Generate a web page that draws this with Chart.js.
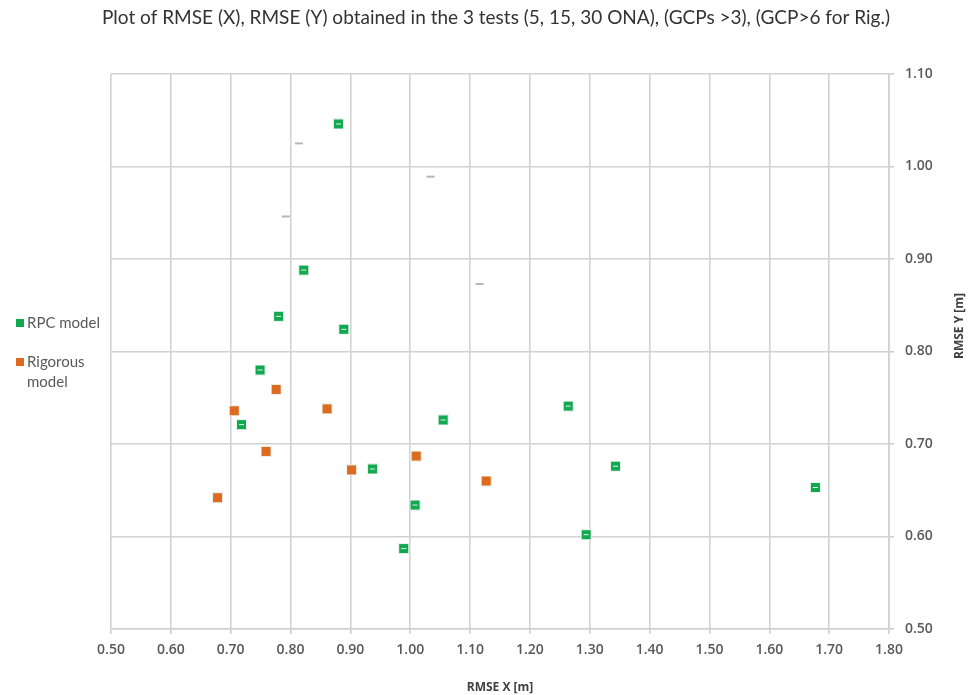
<!DOCTYPE html>
<html>
<head>
<meta charset="utf-8">
<title>RMSE X / RMSE Y scatter</title>
<script src="https://cdn.jsdelivr.net/npm/chart.js"></script>
<style>
  html, body { margin: 0; padding: 0; background: #fff; }
  #wrap { width: 970px; height: 695px; position: relative; }
</style>
</head>
<body>
<div id="wrap"><canvas id="chart"></canvas></div>
<script>
// values (metres)
const rpcX = [0.880, 0.822, 0.780, 0.889, 0.749, 0.718, 1.055, 0.937, 1.008, 1.264, 1.343, 1.677, 1.294, 0.989];
const rpcY = [1.046, 0.888, 0.838, 0.824, 0.780, 0.721, 0.726, 0.673, 0.634, 0.741, 0.676, 0.653, 0.602, 0.587];
const rigX = [0.776, 0.706, 0.861, 0.759, 0.902, 1.010, 1.127, 0.678];
const rigY = [0.759, 0.736, 0.738, 0.692, 0.672, 0.687, 0.660, 0.642];
// small grey dashes with no legend entry
const otherX = [0.814, 1.034, 0.792, 1.116];
const otherY = [1.025, 0.989, 0.946, 0.873];

const xTicks = [0.5, 0.6, 0.7, 0.8, 0.9, 1.0, 1.1, 1.2, 1.3, 1.4, 1.5, 1.6, 1.7, 1.8];
const yTicks = [0.5, 0.6, 0.7, 0.8, 0.9, 1.0, 1.1];

const TITLE = 'Plot of RMSE (X), RMSE (Y) obtained in the 3 tests (5, 15, 30 ONA), (GCPs >3), (GCP>6 for Rig.)';
const GREEN = '#11a84f';
const ORANGE = '#dd6a1f';
const TXT = '#595959';

function pts(xs, ys) {
  return xs.map((x, i) => ({ x: x, y: ys[i] }));
}

// square marker, green one has a light dash through it
function marker(color, dash) {
  const c = document.createElement('canvas');
  c.width = 11; c.height = 11;
  const g = c.getContext('2d');
  g.fillStyle = '#e8f3ec';
  g.fillRect(0, 0, 11, 11);
  g.fillStyle = color;
  g.fillRect(1, 1, 9, 9);
  if (dash) {
    g.fillStyle = '#e4f5ea';
    g.fillRect(3, 5, 5, 1);
  }
  return c;
}

const legendItems = [
  { color: GREEN, lines: ['RPC model'], y: 323 },
  { color: ORANGE, lines: ['Rigorous', 'model'], y: 362 }
];

const sidePlugin = {
  id: 'side',
  afterDraw(chart) {
    const ctx = chart.ctx;
    ctx.save();
    ctx.textBaseline = 'middle';
    // title
    ctx.textAlign = 'center';
    ctx.font = '19px Lato';
    ctx.fillStyle = '#333';
    ctx.fillText(TITLE, 496, 18);
    // legend
    ctx.textAlign = 'left';
    ctx.font = '15px Lato';
    legendItems.forEach(it => {
      ctx.fillStyle = it.color;
      ctx.fillRect(16, it.y - 4, 8, 8);
      ctx.fillStyle = TXT;
      it.lines.forEach((l, i) => ctx.fillText(l, 27, it.y + i * 20));
    });
    // y axis title
    ctx.translate(960, 326);
    ctx.rotate(-Math.PI / 2);
    ctx.textAlign = 'center';
    ctx.font = 'bold 12px "Open Sans"';
    ctx.fillStyle = '#404040';
    ctx.fillText('RMSE Y [m]', 0, 0);
    ctx.restore();
  }
};

const gridStyle = {
  color: '#d2d2d2',
  lineWidth: 1.6,
  tickLength: 5,
  tickColor: '#cfcfcf'
};

new Chart(document.getElementById('chart'), {
  type: 'scatter',
  data: {
    datasets: [
      {
        label: 'grey',
        data: pts(otherX, otherY),
        pointStyle: 'line',
        radius: 4,
        borderColor: '#b5b5b5',
        borderWidth: 2
      },
      {
        label: 'RPC model',
        data: pts(rpcX, rpcY),
        pointStyle: marker(GREEN, true),
        backgroundColor: GREEN
      },
      {
        label: 'Rigorous model',
        data: pts(rigX, rigY),
        pointStyle: marker(ORANGE, false),
        backgroundColor: ORANGE
      }
    ]
  },
  options: {
    responsive: true,
    maintainAspectRatio: false,
    animation: false,
    layout: { padding: { left: 111, right: 0, top: 74, bottom: 0 } },
    plugins: {
      legend: { display: false },
      tooltip: { enabled: false },
      title: { display: false }
    },
    scales: {
      x: {
        type: 'linear',
        min: 0.5,
        max: 1.8,
        afterBuildTicks: s => { s.ticks = xTicks.map(v => ({ value: v })); },
        afterFit: s => { s.height = 66; },
        grid: gridStyle,
        border: { color: '#d0d0d0', width: 1.6 },
        ticks: {
          color: TXT,
          padding: 8,
          font: { family: 'Open Sans', size: 14, weight: '600' },
          callback: v => v.toFixed(2)
        },
        title: {
          display: true,
          text: 'RMSE X [m]',
          color: '#404040',
          font: { family: 'Open Sans', size: 12, weight: 'bold' },
          padding: { top: 4, bottom: 0 }
        }
      },
      y: {
        type: 'linear',
        position: 'right',
        min: 0.5,
        max: 1.1,
        afterBuildTicks: s => { s.ticks = yTicks.map(v => ({ value: v })); },
        afterFit: s => { s.width = 81; },
        grid: gridStyle,
        border: { color: '#d0d0d0', width: 1.6 },
        ticks: {
          color: TXT,
          padding: 11,
          font: { family: 'Open Sans', size: 14, weight: '600' },
          callback: v => v.toFixed(2)
        }
      }
    }
  },
  plugins: [sidePlugin]
});
</script>
</body>
</html>
